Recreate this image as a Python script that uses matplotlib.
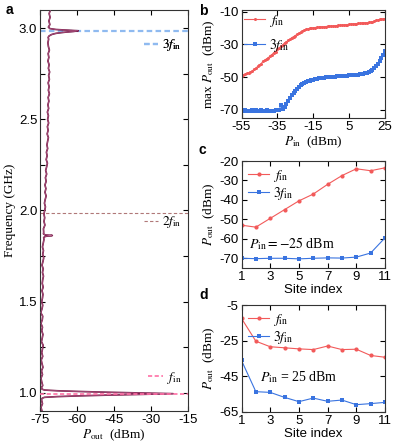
import numpy as np
import matplotlib
matplotlib.use("Agg")
import matplotlib.pyplot as plt
from matplotlib.lines import Line2D
from matplotlib.ticker import MultipleLocator

plt.rcParams['font.family'] = ['Liberation Sans', 'DejaVu Sans']
plt.rcParams['mathtext.fontset'] = 'stix'
plt.rcParams['axes.linewidth'] = 0.8
plt.rcParams['axes.unicode_minus'] = False

# ---------------- data ----------------
# Panel a: spectrum (baseline grid 0.90..3.10 GHz, step 0.02)
spec_base_db = [
    -74.2, -74.6, -74.0, -74.4, -74.3, -74.1, -74.5, -73.9, -74.3, -74.6,
    -74.0, -74.4, -73.8, -74.2, -74.5, -73.9, -74.3, -74.0, -73.7, -74.4,
    -74.1, -73.8, -74.3, -74.0, -74.6, -74.1, -73.9, -74.7, -74.2, -73.9,
    -74.3, -74.0, -73.8, -74.2, -73.7, -74.1, -73.9, -73.6, -74.0, -73.7,
    -74.2, -73.8, -73.5, -73.9, -73.6, -74.0, -73.7, -73.4, -73.8, -73.5,
    -73.6, -73.0, -73.4, -73.1, -73.4, -73.1, -72.8, -73.2, -72.9, -72.5,
    -73.0, -72.6, -73.0, -72.5, -72.8, -72.3, -72.7, -72.3, -72.0, -72.5,
    -72.1, -72.4, -71.9, -72.2, -71.9, -71.6, -72.1, -71.7, -72.0, -71.5,
    -71.9, -71.6, -72.0, -71.5, -71.8, -71.4, -71.7, -71.2, -71.6, -71.3,
    -71.7, -71.2, -71.5, -71.1, -71.6, -71.3, -71.8, -71.4, -71.7, -71.2,
    -71.6, -71.8, -71.5, -71.7, -71.4, -71.6, -71.0, -71.4, -70.9, -71.3,
    -70.8]
spec_base_f = np.round(np.linspace(0.90, 3.10, len(spec_base_db)), 3)

# resonance peaks (frequency GHz, power dBm)
peak1_f = [0.962, 0.970, 0.975, 0.979, 0.983, 0.987, 0.991, 0.995,
           0.999, 1.003, 1.007, 1.011, 1.015, 1.020, 1.028]
peak1_db = [-74.4, -74.1, -73.2, -68.0, -59.0, -48.0, -35.0, -21.0,
            -35.0, -48.0, -59.0, -68.0, -73.2, -74.2, -74.4]
peak2_f = [1.852, 1.858, 1.863, 1.866, 1.872]
peak2_db = [-73.5, -72.8, -70.0, -72.9, -73.6]
peak3_f = [2.950, 2.958, 2.966, 2.972, 2.978, 2.982, 2.986, 2.989,
           2.993, 2.998, 3.006]
peak3_db = [-71.7, -71.3, -70.2, -68.5, -65.0, -61.5, -59.5, -63.5,
            -68.5, -71.0, -71.6]

f_in = 0.995
harm_f = [f_in, 2 * f_in - 0.005, 2.984]
harm_labels = [r'$f_{\mathrm{in}}$', r'$2f_{\mathrm{in}}$', r'$3f_{\mathrm{in}}$']
harm_label_y = [1.082, 1.935, 2.907]

# Panel b
pin_b = list(range(-55, 26))
b_fin = [-49.4, -49.0, -48.3, -47.8, -47.4, -46.8, -46.3, -45.2, -44.6, -43.5,
         -42.4, -41.8, -40.2, -39.6, -38.8, -38.2, -36.9, -36.2, -35.1, -34.4,
         -33.0, -32.2, -31.1, -30.3, -29.1, -28.4, -27.6, -26.9, -25.9, -25.3,
         -24.6, -23.9, -23.1, -22.5, -21.9, -21.3, -20.8, -20.5, -20.2, -20.0,
         -19.9, -19.7, -19.6, -19.5, -19.4, -19.3, -19.3, -19.1, -19.0, -18.9,
         -18.8, -18.8, -18.6, -18.5, -18.4, -18.3, -18.2, -18.1, -18.0, -17.9,
         -17.8, -17.6, -17.5, -17.4, -17.3, -17.2, -17.1, -17.0, -16.9, -16.8,
         -16.7, -16.6, -16.4, -16.2, -15.8, -15.4, -15.1, -14.8, -14.6, -14.5,
         -14.3]
b_3fin = [-70.4, -70.9, -70.3, -70.6, -71.0, -70.5, -70.2, -70.8, -70.4, -70.6,
          -70.9, -70.3, -70.5, -70.7, -70.4, -70.8, -70.6, -70.9, -70.5, -70.2,
          -70.4, -70.1, -67.0, -69.5, -68.5, -66.2, -64.5, -62.6, -60.8, -59.5,
          -58.5, -57.3, -56.2, -55.0, -54.2, -53.5, -53.0, -52.6, -52.2, -51.8,
          -51.5, -51.3, -51.0, -50.8, -50.6, -50.5, -50.3, -50.2, -50.0, -49.9,
          -49.8, -49.8, -49.7, -49.6, -49.5, -49.5, -49.4, -49.3, -49.2, -49.1,
          -49.0, -49.0, -48.9, -48.8, -48.8, -48.6, -48.4, -48.1, -47.9, -47.6,
          -47.3, -46.9, -46.3, -45.6, -44.6, -43.3, -41.8, -40.0, -38.3, -36.3,
          -34.0]

# Panel c (P_in = -25 dBm)
sites = list(range(1, 12))
c_fin = [-53.0, -54.0, -49.5, -45.0, -40.5, -37.0, -32.0, -27.5, -24.0, -25.0, -23.5]
c_3fin = [-70.0, -70.2, -70.0, -70.0, -70.3, -70.0, -69.8, -69.9, -69.4, -67.3, -59.5]

# Panel d (P_in = 25 dBm)
d_fin = [-12.5, -25.3, -28.4, -29.0, -29.6, -30.0, -28.0, -30.0, -29.8, -33.3, -34.3]
d_3fin = [-36.1, -53.6, -54.0, -56.8, -59.2, -57.2, -59.0, -58.3, -60.9, -60.3, -59.6]

RED = '#f25a5a'
BLUE = '#3a74e0'
MAROON = '#6e0b3a'

# ---------------- figure ----------------
W, H = 396, 443
fig = plt.figure(figsize=(W / 100, H / 100), dpi=100)


def rect(l, t, r, b):
    return [l / W, 1 - b / H, (r - l) / W, (b - t) / H]


axa = fig.add_axes(rect(40, 10, 188, 411))
axb = fig.add_axes(rect(241.5, 10, 385, 118))
axc = fig.add_axes(rect(241.5, 161, 385, 268))
axd = fig.add_axes(rect(241.5, 305, 385, 412))

TICK_FS = 9.5
LAB_FS = 9.5
serif = ['Liberation Serif', 'DejaVu Serif']


def style(ax):
    ax.tick_params(direction='in', top=True, right=True, length=3.5, width=0.8,
                   labelsize=TICK_FS, pad=2)
    ax.tick_params(which='minor', direction='in', top=True, right=True,
                   length=3.5, width=0.8)
    for s in ax.spines.values():
        s.set_color('#333333')


# ---- panel a ----
pts = {}
for f, v in zip(spec_base_f, spec_base_db):
    pts[float(f)] = v
windows = [(min(peak1_f), max(peak1_f), peak1_f, peak1_db),
           (min(peak2_f), max(peak2_f), peak2_f, peak2_db),
           (min(peak3_f), max(peak3_f), peak3_f, peak3_db)]
for lo, hi, ff, vv in windows:
    for k in list(pts.keys()):
        if lo <= k <= hi:
            del pts[k]
    for f, v in zip(ff, vv):
        pts[f] = v
fs = sorted(pts.keys())
vs = [pts[k] for k in fs]

harm_colors = ['#ff6fa5', '#b07878', '#8fbaf0']
harm_lw = [1.2, 0.8, 1.6]
harm_ls = [(0, (2.5, 1.5)), (0, (3, 2)), (0, (2.5, 1.5))]
harm_z = [4, 1, 1]

for y, c, lw, ls, z in zip(harm_f, harm_colors, harm_lw, harm_ls, harm_z):
    axa.axhline(y, color=c, lw=lw, ls=ls, zorder=z)
axa.plot(vs, fs, color=MAROON, lw=1.2, zorder=2)
axa.plot(vs, fs, color='#c0709a', lw=0.4, zorder=3)

axa.set_xlim(-75, -15)
axa.set_ylim(0.9, 3.1)
axa.set_xticks([-75, -60, -45, -30, -15])
axa.yaxis.set_minor_locator(MultipleLocator(0.25))
axa.set_yticks([1.0, 1.5, 2.0, 2.5, 3.0])
axa.set_yticklabels(['1.0', '1.5', '2.0', '2.5', '3.0'])
style(axa)
axa.set_xlabel(r'$P_{\mathrm{out}}$  (dBm)', family=serif, fontsize=LAB_FS, labelpad=1)
axa.set_ylabel('Frequency (GHz)', family=serif, fontsize=LAB_FS, labelpad=2)

# harmonic labels (legend-like)
for txt, c, lw, ls, ly in zip(harm_labels, harm_colors, harm_lw, harm_ls, harm_label_y):
    h = Line2D([], [], color=c, lw=lw, ls=ls)
    lg = axa.legend([h], [txt], loc='center right', frameon=False,
                    bbox_to_anchor=(1.01, (ly - 0.9) / 2.2),
                    handlelength=1.1, handletextpad=0.3, borderpad=0.1,
                    prop={'family': serif, 'size': 9.5})
    axa.add_artist(lg)

# ---- panel b ----
axb.plot(pin_b, b_fin, color=RED, marker='o', ms=2.2, lw=0.8, mew=0,
         label=r'$f_{\mathrm{in}}$')
axb.plot(pin_b, b_3fin, color=BLUE, marker='s', ms=2.2, lw=0.8, mew=0,
         label=r'$3f_{\mathrm{in}}$')
axb.set_xlim(-55, 25)
axb.set_ylim(-75, -9)
axb.set_xticks([-55, -35, -15, 5, 25])
axb.set_yticks([-10, -30, -50, -70])
style(axb)
axb.set_xlabel(r'$P_{\mathrm{in}}$  (dBm)', family=serif, fontsize=LAB_FS, labelpad=1)
axb.set_ylabel(r'max $P_{\mathrm{out}}$  (dBm)', family=serif, fontsize=LAB_FS, labelpad=2)
axb.legend(loc='upper left', frameon=False, handlelength=1.5, handletextpad=0.3,
           borderpad=0.1, borderaxespad=0.1, labelspacing=0.6,
           prop={'family': serif, 'size': 10})

# ---- panel c ----
axc.plot(sites, c_fin, color=RED, marker='o', ms=3, lw=0.8, mew=0,
         label=r'$f_{\mathrm{in}}$')
axc.plot(sites, c_3fin, color=BLUE, marker='s', ms=3, lw=0.8, mew=0,
         label=r'$3f_{\mathrm{in}}$')
axc.set_xlim(1, 11)
axc.set_ylim(-75, -20)
axc.set_xticks([1, 3, 5, 7, 9, 11])
axc.set_yticks([-20, -30, -40, -50, -60, -70])
style(axc)
axc.set_xlabel('Site index', fontsize=LAB_FS, labelpad=1)
axc.set_ylabel(r'$P_{\mathrm{out}}$  (dBm)', family=serif, fontsize=LAB_FS, labelpad=2)
axc.legend(loc='upper left', frameon=False, handlelength=1.5, handletextpad=0.3,
           borderpad=0.1, borderaxespad=0.4, labelspacing=0.1,
           prop={'family': serif, 'size': 10})
axc.text(1.5, -67, r'$P_{\mathrm{in}} = -25$ dBm', family=serif, fontsize=10,
         ha='left', va='bottom')

# ---- panel d ----
axd.plot(sites, d_fin, color=RED, marker='o', ms=3, lw=0.8, mew=0,
         label=r'$f_{\mathrm{in}}$')
axd.plot(sites, d_3fin, color=BLUE, marker='s', ms=3, lw=0.8, mew=0,
         label=r'$3f_{\mathrm{in}}$')
axd.set_xlim(1, 11)
axd.set_ylim(-65, -5)
axd.set_xticks([1, 3, 5, 7, 9, 11])
axd.set_yticks([-5, -25, -45, -65])
style(axd)
axd.set_xlabel('Site index', fontsize=LAB_FS, labelpad=1)
axd.set_ylabel(r'$P_{\mathrm{out}}$  (dBm)', family=serif, fontsize=LAB_FS, labelpad=2)
axd.legend(loc='upper left', frameon=False, handlelength=1.5, handletextpad=0.3,
           borderpad=0.1, borderaxespad=0.4, labelspacing=0.1,
           prop={'family': serif, 'size': 10})
axd.text(2.3, -50, r'$P_{\mathrm{in}}$ = 25 dBm', family=serif, fontsize=10,
         ha='left', va='bottom')

# panel letters
for txt, x, y in [('a', 6, 10), ('b', 199, 11), ('c', 199, 150), ('d', 199, 295)]:
    fig.text(x / W, 1 - y / H, txt, fontsize=10, fontweight='bold', va='center')

fig.savefig('out.png', dpi=100)
